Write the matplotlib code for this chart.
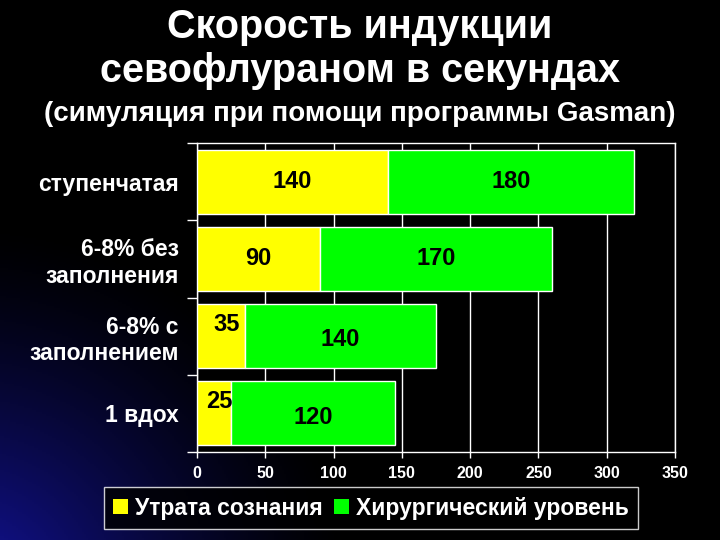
import numpy as np
import matplotlib.pyplot as plt
from matplotlib.patches import Patch

plt.rcParams['font.family'] = ['Liberation Sans', 'DejaVu Sans']

categories = ["ступенчатая", "6-8% без\nзаполнения", "6-8% с\nзаполнением", "1 вдох"]
loss_of_consciousness = [140, 90, 35, 25]
surgical_level = [180, 170, 140, 120]
x_ticks = [0, 50, 100, 150, 200, 250, 300, 350]
series_names = ["Утрата сознания", "Хирургический уровень"]

YELLOW = "#ffff00"
GREEN = "#00ff00"

fig = plt.figure(figsize=(7.2, 5.4), dpi=100, facecolor="black")

# background: black with a blue glow in the lower left corner
bg = fig.add_axes([0, 0, 1, 1], zorder=-10)
gx, gy = np.meshgrid(np.linspace(0, 720, 360), np.linspace(0, 540, 270))
d = np.sqrt(((gx + 40) / 1.1) ** 2 + ((gy - 600) / 1.05) ** 2)
glow = np.clip(1 - d / 360, 0, 1) ** 1.4
img = np.zeros(gx.shape + (3,))
img[..., 0] = 0.08 * glow
img[..., 1] = 0.08 * glow
img[..., 2] = 0.65 * glow
bg.imshow(img, extent=[0, 720, 540, 0], aspect="auto")
bg.set_xlim(0, 720)
bg.set_ylim(540, 0)
bg.axis("off")

# titles
fig.text(0.5, 1 - 27 / 540, "Скорость индукции", color="white", fontsize=28.5,
         fontweight="bold", ha="center", va="center")
fig.text(0.5, 1 - 71 / 540, "севофлураном в секундах", color="white", fontsize=28.5,
         fontweight="bold", ha="center", va="center")
fig.text(0.5, 1 - 114 / 540, "(симуляция при помощи программы Gasman)", color="white",
         fontsize=20, fontweight="bold", ha="center", va="center")

ax = fig.add_axes([197 / 720, 88 / 540, 478 / 720, 309 / 540])
ax.set_facecolor("black")

y = np.arange(len(categories))
h = 0.83
ax.barh(y, loss_of_consciousness, height=h, color=YELLOW, edgecolor="white",
        linewidth=1, zorder=3)
ax.barh(y, surgical_level, left=loss_of_consciousness, height=h, color=GREEN,
        edgecolor="white", linewidth=1, zorder=3)

for i, (a, b) in enumerate(zip(loss_of_consciousness, surgical_level)):
    dy_a, dy_b = 0, 0
    if a < 50:
        dy_a, dy_b = -0.15, 0.05
    ax.text(a / 2 + (4 if a < 50 else 0), i + dy_a, str(a), ha="center", va="center",
            fontsize=17, fontweight="bold", color="black", zorder=4)
    ax.text(a + b / 2, i + dy_b, str(b), ha="center", va="center",
            fontsize=17, fontweight="bold", color="black", zorder=4)

ax.set_xlim(0, 350)
ax.set_ylim(len(categories) - 0.5, -0.5)
ax.set_xticks(x_ticks)
ax.set_xticklabels([str(t) for t in x_ticks], color="white", fontsize=11.5,
                   fontweight="bold")
ax.set_yticks(y)
ax.set_yticklabels(categories, color="white", fontsize=16.5, fontweight="bold",
                   linespacing=1.2)
ax.set_yticks(np.arange(-0.5, len(categories)), minor=True)
ax.tick_params(axis="y", which="major", length=0, pad=13)
ax.tick_params(axis="y", which="minor", length=7, color="white", width=1)
ax.tick_params(axis="x", length=4, color="white", width=1, pad=6)
ax.grid(axis="x", color="white", linewidth=1, zorder=1)
for s in ax.spines.values():
    s.set_color("white")
    s.set_linewidth(1)

handles = [Patch(facecolor=YELLOW, edgecolor="none"), Patch(facecolor=GREEN, edgecolor="none")]
leg = fig.legend(handles, series_names, loc="center", bbox_to_anchor=(371 / 720, 1 - 508 / 540),
                 ncol=2, frameon=True, fancybox=False, facecolor="black", edgecolor="white",
                 fontsize=16.5, handlelength=0.65, handleheight=0.65, handletextpad=0.3,
                 columnspacing=0.5, borderpad=0.4, borderaxespad=0)
for t in leg.get_texts():
    t.set_color("white")
    t.set_fontweight("bold")
leg.get_frame().set_linewidth(1)

fig.savefig("out.png", dpi=100, facecolor="black")
